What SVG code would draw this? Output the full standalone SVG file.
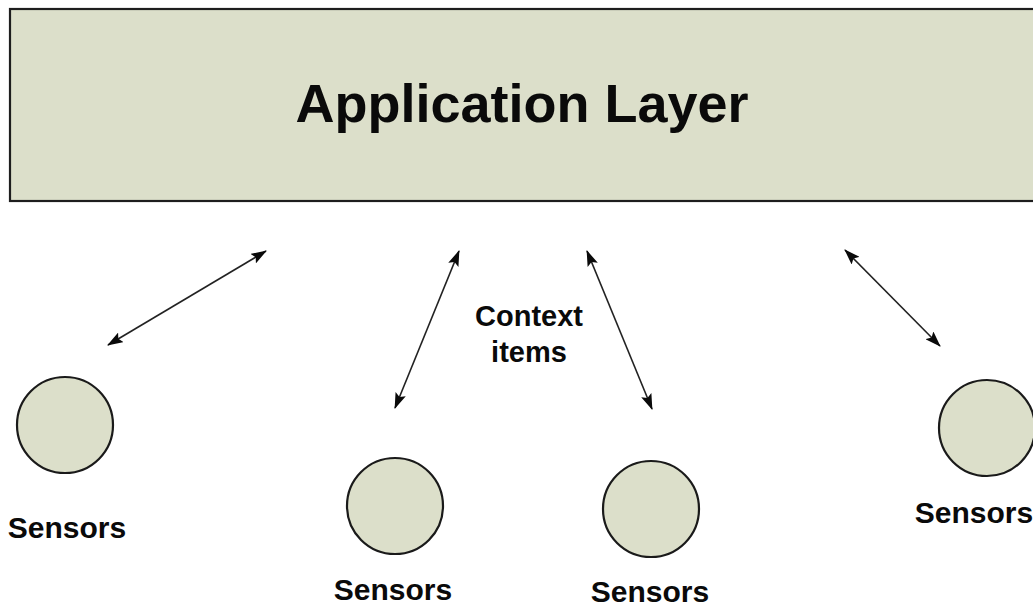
<svg xmlns="http://www.w3.org/2000/svg" width="1033" height="607" viewBox="0 0 1033 607">
  <style>
    .box { fill: #dcdfca; stroke: #1e1e1e; stroke-width: 2.2; }
    .sensor { fill: #dcdfca; stroke: #1a1a1a; stroke-width: 2.2; }
    .label { font-family: "Liberation Sans", Arial, sans-serif; font-weight: bold; fill: #0a0a0a; text-anchor: middle; }
    .link { stroke: #222; stroke-width: 1.6; fill: none; marker-start: url(#head); marker-end: url(#head); }
  </style>
  <defs>
    <marker id="head" viewBox="0 0 16 11" refX="15" refY="5.5" markerWidth="16" markerHeight="11" markerUnits="userSpaceOnUse" orient="auto-start-reverse">
      <path d="M0,0 L16,5.5 L0,11 L3,5.5 Z" fill="#0a0a0a"/>
    </marker>
  </defs>

  <rect width="1033" height="607" fill="#ffffff"/>

  <!-- top layer -->
  <g id="application-layer">
    <rect class="box" x="10" y="9" width="1040" height="192"/>
    <text class="label" x="522" y="122" font-size="54">Application Layer</text>
  </g>

  <!-- sensor nodes -->
  <g id="sensor-1">
    <circle class="sensor" cx="65" cy="425" r="48"/>
    <text class="label" x="67" y="538" font-size="30">Sensors</text>
  </g>
  <g id="sensor-2">
    <circle class="sensor" cx="395" cy="506" r="48"/>
    <text class="label" x="393" y="600" font-size="30">Sensors</text>
  </g>
  <g id="sensor-3">
    <circle class="sensor" cx="651" cy="509" r="48"/>
    <text class="label" x="650" y="602" font-size="30">Sensors</text>
  </g>
  <g id="sensor-4">
    <circle class="sensor" cx="987" cy="428" r="48"/>
    <text class="label" x="974" y="523" font-size="30">Sensors</text>
  </g>

  <!-- label between the middle links -->
  <g id="context-items">
    <text class="label" x="529" y="326" font-size="29">Context</text>
    <text class="label" x="529" y="362" font-size="29">items</text>
  </g>

  <!-- two-way links between sensors and the application layer -->
  <g id="connectors">
    <line class="link" x1="108" y1="345" x2="266" y2="251"/>
    <line class="link" x1="395" y1="408" x2="459" y2="251"/>
    <line class="link" x1="652" y1="409" x2="587" y2="251"/>
    <line class="link" x1="940" y1="346" x2="845" y2="250"/>
  </g>
</svg>
